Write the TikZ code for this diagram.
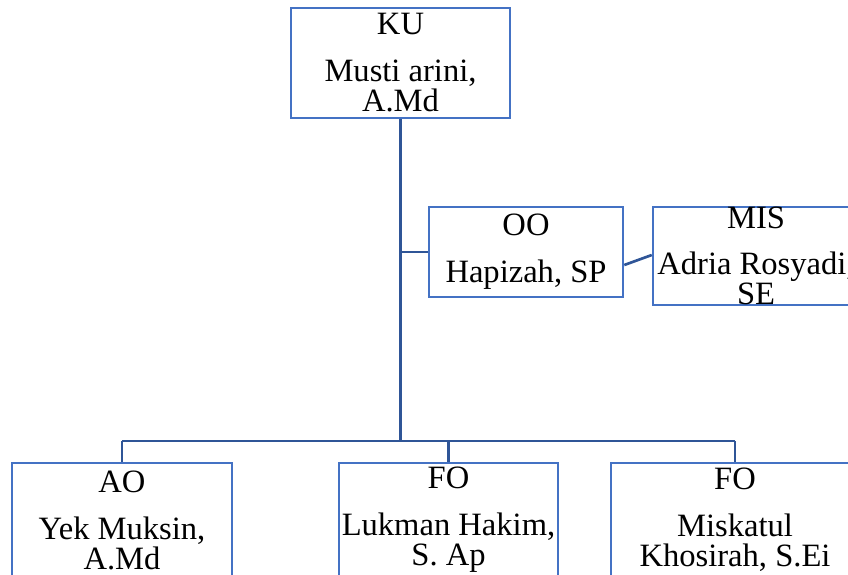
\documentclass[tikz,border=0pt]{standalone}
\usepackage{fontspec}
\setmainfont{Liberation Serif}
\usetikzlibrary{calc}

\definecolor{boxblue}{HTML}{4472C4}
\definecolor{lineblue}{HTML}{2F5597}

\tikzset{
    unitbox/.style={draw=boxblue, line width=0.075cm, inner sep=0pt, align=center,
        minimum width=6.6cm, minimum height=3.3cm,
        font=\fontsize{27.8}{25.6}\selectfont},
    link/.style={draw=lineblue, line width=0.08cm}
}

\begin{document}
\begin{tikzpicture}
    \useasboundingbox (0,0) rectangle (25.44,-17.22);
    % Head
    \node[unitbox, minimum width=6.57cm] (ku) at (12.015,-1.89) {KU\\[14.5pt]Musti arini,\\A.Md};
    % Staff
    \node[unitbox, minimum width=5.82cm, minimum height=2.7cm] (oo) at (15.78,-7.56) {OO\\[14.5pt]Hapizah, SP};
    \node[unitbox, minimum width=6.18cm, minimum height=2.94cm] (mis) at (22.68,-7.68) {MIS\\[13.7pt]Adria Rosyadi,\\SE};
    % Officers
    \node[unitbox, minimum height=3.42cm] (ao) at (3.66,-15.6) {AO\\[14.5pt]Yek Muksin,\\A.Md};
    \node[unitbox, minimum width=6.57cm, minimum height=3.42cm] (fo) at (13.455,-15.6) {FO\\[14.5pt]Lukman Hakim,\\S. Ap};
    \node[unitbox, minimum width=7.44cm, minimum height=3.42cm] (fob) at (22.05,-15.6) {FO\\[14.5pt]Miskatul\\Khosirah, S.Ei};
    % Lines
    \coordinate (bus) at (0,-13.23);
    \draw[link] (ku.south) -- (ku.south |- bus);
    \draw[link] (ku.south |- oo.west) -- (oo.west);
    \draw[link] ($(oo.east)+(0,-0.39)$) -- ($(mis.west)+(0,0.03)$);
    \draw[link] (ao.north |- bus) -- (fob.north |- bus);
    \draw[link] (ao.north) -- (ao.north |- bus);
    \draw[link] (fo.north) -- (fo.north |- bus);
    \draw[link] (fob.north) -- (fob.north |- bus);
\end{tikzpicture}
\end{document}
